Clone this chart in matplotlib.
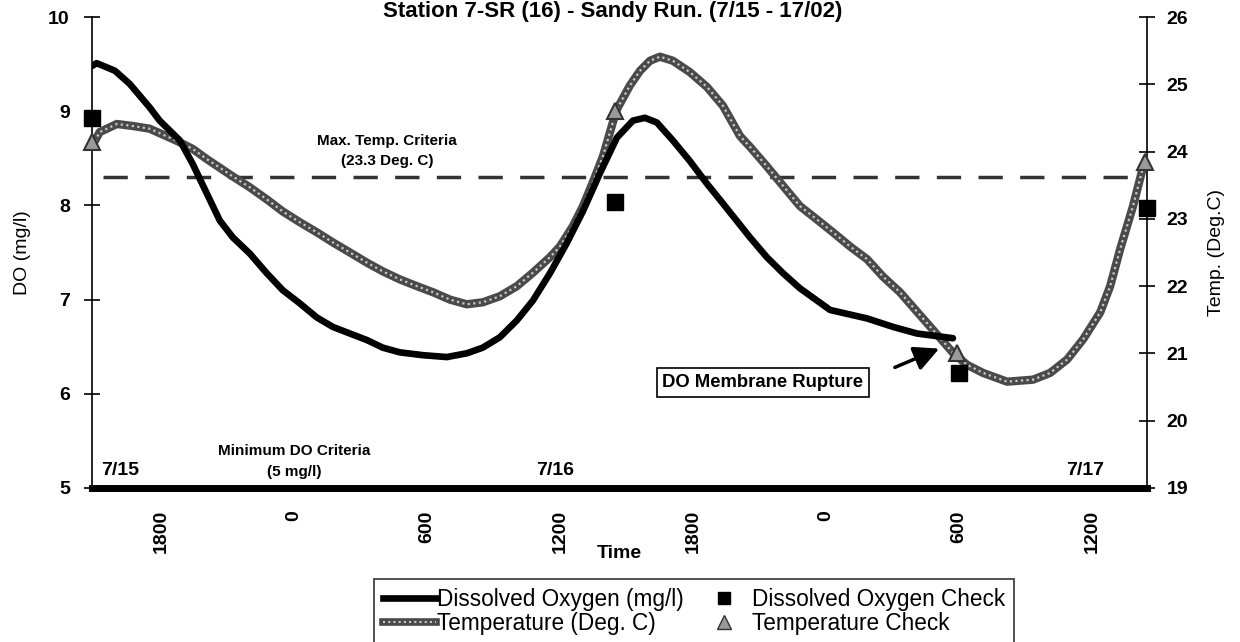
import matplotlib
matplotlib.use("Agg")
import matplotlib.pyplot as plt
from matplotlib.legend_handler import HandlerTuple

plt.rcParams['font.family'] = ['Liberation Sans', 'DejaVu Sans']

# hours counted from 7/15 00:00
do_hours = [14.9, 15.11, 15.93, 16.6, 17.5, 17.95, 18.86, 19.44, 20.07, 20.66, 21.25,
            22.01, 22.78, 23.5, 24.27, 25.04, 25.76, 26.53, 27.3, 28.01, 28.78, 29.82,
            30.9, 31.8, 32.52, 33.29, 34.06, 34.78, 35.55, 36.31, 37.04, 37.8, 38.57,
            39.29, 39.83, 40.37, 41.09, 41.86, 42.63, 43.35, 44.57, 45.33, 46.06, 46.82,
            47.59, 48.18, 49.85, 51.02, 52.1, 53.72]
do_vals = [9.48, 9.51, 9.43, 9.29, 9.04, 8.90, 8.69, 8.44, 8.13, 7.84, 7.66,
           7.49, 7.28, 7.10, 6.96, 6.81, 6.71, 6.64, 6.57, 6.49, 6.44, 6.41,
           6.39, 6.43, 6.49, 6.60, 6.78, 6.99, 7.28, 7.60, 7.94, 8.34, 8.72,
           8.90, 8.93, 8.88, 8.69, 8.47, 8.23, 8.02, 7.66, 7.45, 7.28, 7.12,
           6.99, 6.89, 6.80, 6.71, 6.64, 6.59]

temp_hours = [14.9, 15.25, 16.02, 16.74, 17.5, 18.72, 19.44, 20.07, 21.25, 22.01, 22.78,
              23.5, 24.27, 25.04, 25.76, 26.53, 27.29, 28.01, 28.78, 29.55, 30.27, 31.04,
              31.8, 32.52, 33.29, 34.06, 34.78, 35.55, 36.0, 36.58, 37.04, 37.49, 37.94,
              38.39, 38.57, 39.15, 39.61, 40.06, 40.51, 41.09, 41.86, 42.63, 43.35, 44.12,
              44.57, 45.33, 46.06, 46.82, 47.59, 48.31, 49.08, 49.85, 50.57, 51.33, 52.1,
              52.82, 53.72, 54.36, 55.08, 56.16, 57.33, 58.1, 58.87, 59.59, 60.36, 60.81,
              61.26, 61.84, 62.3]
temp_vals = [24.08, 24.29, 24.41, 24.38, 24.34, 24.16, 24.04, 23.89, 23.63, 23.47, 23.29,
             23.11, 22.95, 22.80, 22.65, 22.50, 22.35, 22.22, 22.10, 22.00, 21.91, 21.80,
             21.73, 21.76, 21.85, 22.00, 22.20, 22.43, 22.59, 22.89, 23.19, 23.55, 23.93,
             24.44, 24.63, 24.98, 25.20, 25.35, 25.41, 25.35, 25.18, 24.96, 24.68, 24.23,
             24.07, 23.78, 23.49, 23.19, 22.99, 22.80, 22.59, 22.40, 22.14, 21.91, 21.62,
             21.35, 21.01, 20.83, 20.71, 20.58, 20.61, 20.71, 20.91, 21.21, 21.61, 22.0,
             22.55, 23.19, 23.78]

do_check_hours = [14.9, 38.5, 54.0, 62.45]
do_check_vals = [8.93, 8.04, 6.22, 7.97]
temp_check_hours = [14.9, 38.5, 53.9, 62.4]
temp_check_vals = [24.14, 24.60, 21.01, 23.84]

max_temp_line = 23.62
min_do_line = 5.0

tick_hours = [18, 24, 30, 36, 42, 48, 54, 60]
tick_labels = ['1800', '0', '600', '1200', '1800', '0', '600', '1200']
day_hours = [16.15, 35.8, 59.7]
day_labels = ['7/15', '7/16', '7/17']

fig = plt.figure(figsize=(12.4, 6.42), dpi=100)
ax = fig.add_axes([92 / 1240, 1 - 488 / 642, (1147 - 92) / 1240, (488 - 17) / 642])
ax2 = ax.twinx()
ax2.set_zorder(ax.get_zorder() + 1)
ax2.patch.set_visible(False)

ax.set_xlim(14.9, 62.47)
ax.set_ylim(5, 10)
ax2.set_ylim(19, 26)

# temperature: dark band with light speckles
ax2.plot(temp_hours, temp_vals, color='#4a4a4a', lw=6, solid_capstyle='round',
         solid_joinstyle='round', zorder=2)
ax2.plot(temp_hours, temp_vals, color='#c8c8c8', lw=1.6, ls=(0, (1, 1.5)), zorder=3)
ax2.plot(temp_check_hours, temp_check_vals, ls='none', marker='^', ms=12,
         mfc='#9a9a9a', mec='#333333', mew=1.5, clip_on=False, zorder=4)
ax2.plot([15.4, 62.3], [max_temp_line, max_temp_line], color='#333333', lw=2.5,
         dashes=(7, 5), zorder=1)

# dissolved oxygen, on the DO scale but drawn above the temperature band
ax2.plot(do_hours, do_vals, color='black', lw=4.8, solid_capstyle='round',
         solid_joinstyle='round', transform=ax.transData, zorder=5)
ax2.plot(do_check_hours, do_check_vals, ls='none', marker='s', ms=12, color='black',
         transform=ax.transData, clip_on=False, zorder=6)
ax2.plot([14.9, 62.47], [min_do_line, min_do_line], color='black', lw=5,
         transform=ax.transData, clip_on=False, zorder=6)

for a in (ax, ax2):
    a.spines['top'].set_visible(False)
    a.spines['bottom'].set_visible(False)
ax.spines['right'].set_visible(False)
ax2.spines['left'].set_visible(False)
ax.spines['left'].set_linewidth(1.2)
ax2.spines['right'].set_linewidth(1.2)

ax.set_yticks([5, 6, 7, 8, 9, 10])
ax2.set_yticks([19, 20, 21, 22, 23, 24, 25, 26])
ax.tick_params(axis='y', direction='inout', length=12, width=1.2, labelsize=14, pad=10)
ax2.tick_params(axis='y', direction='inout', length=12, width=1.2, labelsize=14, pad=8)
for lab in ax.get_yticklabels() + ax2.get_yticklabels():
    lab.set_fontweight('bold')

ax.set_xticks(tick_hours)
ax.set_xticklabels(tick_labels, rotation=90, fontsize=14, fontweight='bold')
ax.tick_params(axis='x', length=0, pad=16)

ax.set_ylabel('DO (mg/l)', fontsize=14, labelpad=12)
ax2.set_ylabel('Temp. (Deg.C)', fontsize=14, labelpad=14)
ax.set_xlabel('Time', fontsize=14, fontweight='bold', labelpad=-6)

for h, lab in zip(day_hours, day_labels):
    ax.text(h, 5.19, lab, ha='center', va='center', fontsize=14, fontweight='bold')

ax.text(28.2, 8.58, 'Max. Temp. Criteria\n(23.3 Deg. C)', ha='center', va='center',
        fontsize=11, fontweight='bold', linespacing=1.5)
ax.text(24.0, 5.28, 'Minimum DO Criteria\n(5 mg/l)', ha='center', va='center',
        fontsize=11, fontweight='bold', linespacing=1.6)

ax.text(45.15, 6.12, 'DO Membrane Rupture', ha='center', va='center', fontsize=13.3,
        fontweight='bold', zorder=10,
        bbox=dict(boxstyle='square,pad=0.3', fc='white', ec='black', lw=1.2))
ax.annotate('', xy=(53.1, 6.48), xytext=(51.1, 6.28),
            arrowprops=dict(arrowstyle='-|>,head_length=1.5,head_width=0.75', color='black',
                            lw=2.5, shrinkA=0, shrinkB=0), zorder=10)

fig.text(0.494, 1 - 1 / 642, 'Station 7-SR (16) - Sandy Run. (7/15 - 17/02)', ha='center',
         va='top', fontsize=16, fontweight='bold')

# legend
h1, = ax.plot([], [], color='black', lw=4.8)
h2a, = ax.plot([], [], color='#4a4a4a', lw=5.5)
h2b, = ax.plot([], [], color='#c8c8c8', lw=1.5, ls=(0, (1, 1.5)))
h3, = ax.plot([], [], ls='none', marker='s', ms=9, color='black')
h4, = ax.plot([], [], ls='none', marker='^', ms=10, mfc='#9a9a9a', mec='#333333')
leg = fig.legend([h1, (h2a, h2b), h3, h4],
                 ['Dissolved Oxygen (mg/l)', 'Temperature (Deg. C)',
                  'Dissolved Oxygen Check', 'Temperature Check'],
                 handler_map={tuple: HandlerTuple(ndivide=1, pad=0)},
                 ncol=2, loc='upper left', bbox_to_anchor=(374 / 1240, 1 - 579 / 642),
                 fontsize=16.3, frameon=True, fancybox=False, handlelength=2.35,
                 handletextpad=0.05, columnspacing=0.6, borderpad=0.4, labelspacing=0.05,
                 borderaxespad=0)
leg.get_frame().set_edgecolor('black')
leg.get_frame().set_linewidth(1.2)

fig.savefig('out.png', dpi=100)
